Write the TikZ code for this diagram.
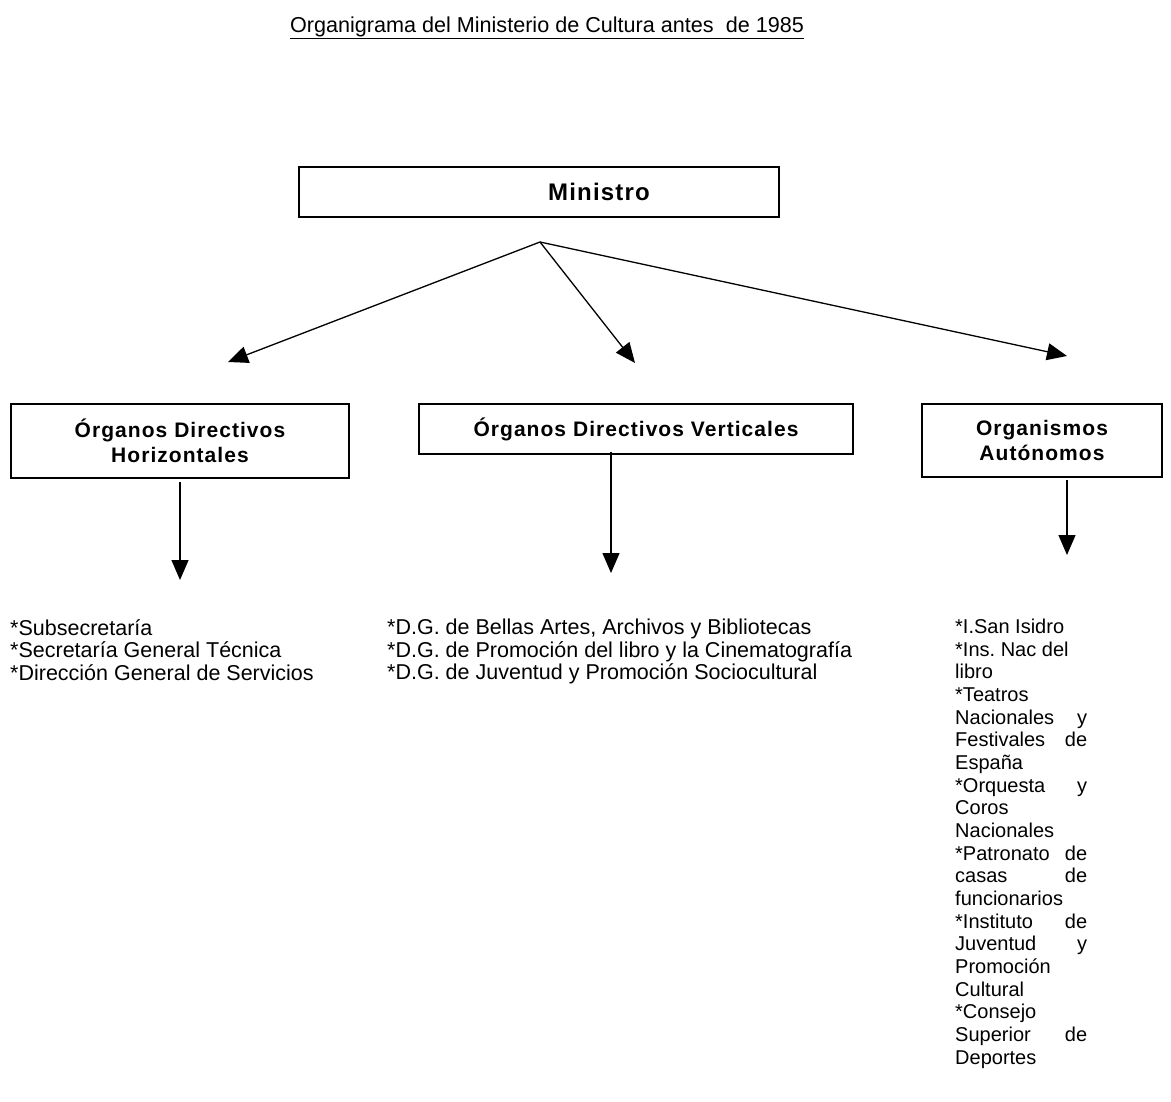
\documentclass[tikz,border=0pt]{standalone}
\usepackage{fontspec}
\setmainfont{Liberation Sans}
\newfontfamily\hdfont[LetterSpace=5]{Liberation Sans}
\usetikzlibrary{arrows.meta}
\frenchspacing
\newcommand\jline[1]{\makebox[132pt][s]{#1}}
\tikzset{
  orgbox/.style={draw, line width=1.3pt, inner sep=0pt},
  hdtext/.style={font=\hdfont\bfseries\fontsize{21}{25}\selectfont, align=center},
  arr/.style={line width=1.3pt, -{Triangle[length=20pt,width=17pt]}},
  listtext/.style={font=\frenchspacing\fontsize{21.5}{22.5}\selectfont, align=left, anchor=north west, inner sep=0pt},
}
\begin{document}
\begin{tikzpicture}[x=1pt,y=-1pt]
\useasboundingbox (0,0) rectangle (1171,1102);
\node[font=\fontsize{21.6}{24}\selectfont, inner sep=0pt] (title) at (547,28) {\underline{Organigrama del Ministerio de Cultura antes\ \ de 1985}};

\node[orgbox, minimum width=480pt, minimum height=50pt] (min) at (539,192)
  {\hdfont\bfseries\fontsize{24}{28}\selectfont\hspace*{120pt}Ministro};

\node[orgbox, minimum width=338pt, minimum height=74pt, hdtext] (odh) at (180,441)
  {Órganos Directivos\\Horizontales};
\node[orgbox, minimum width=434pt, minimum height=50pt, hdtext] (odv) at (636,429)
  {Órganos Directivos Verticales};
\node[orgbox, minimum width=240pt, minimum height=73pt, hdtext] (oa) at (1042,440.5)
  {Organismos\\Autónomos};

\coordinate (hub) at (540,242);
\coordinate (t1) at (228,362);
\coordinate (t2) at (635,363);
\coordinate (t3) at (1067,356);
\draw[arr] (hub) -- (t1);
\draw[arr] (hub) -- (t2);
\draw[arr] (hub) -- (t3);

\coordinate (s1) at (180,482);
\coordinate (e1) at (180,580);
\coordinate (s2) at (611,452);
\coordinate (e2) at (611,573);
\coordinate (s3) at (1067,480);
\coordinate (e3) at (1067,555);
\draw[arr] (s1) -- (e1);
\draw[arr] (s2) -- (e2);
\draw[arr] (s3) -- (e3);

\node[listtext] (l1) at (10,619)
  {*Subsecretaría\\*Secretaría General Técnica\\*Dirección General de Servicios};
\node[listtext] (l2) at (387,619)
  {*D.G. de Bellas Artes, Archivos y Bibliotecas\\*D.G. de Promoción del libro y la Cinematografía\\*D.G. de Juventud y Promoción Sociocultural};
\node[listtext, font=\frenchspacing\fontsize{20}{22.65}\selectfont] (l3) at (955,619)
  {*I.San Isidro\\
   *Ins. Nac del\\
   libro\\
   *Teatros\\
   \jline{Nacionales y}\\
   \jline{Festivales de}\\
   España\\
   \jline{*Orquesta y}\\
   Coros\\
   Nacionales\\
   \jline{*Patronato de}\\
   \jline{casas de}\\
   funcionarios\\
   \jline{*Instituto de}\\
   \jline{Juventud y}\\
   Promoción\\
   Cultural\\
   *Consejo\\
   \jline{Superior de}\\
   Deportes};
\end{tikzpicture}
\end{document}
